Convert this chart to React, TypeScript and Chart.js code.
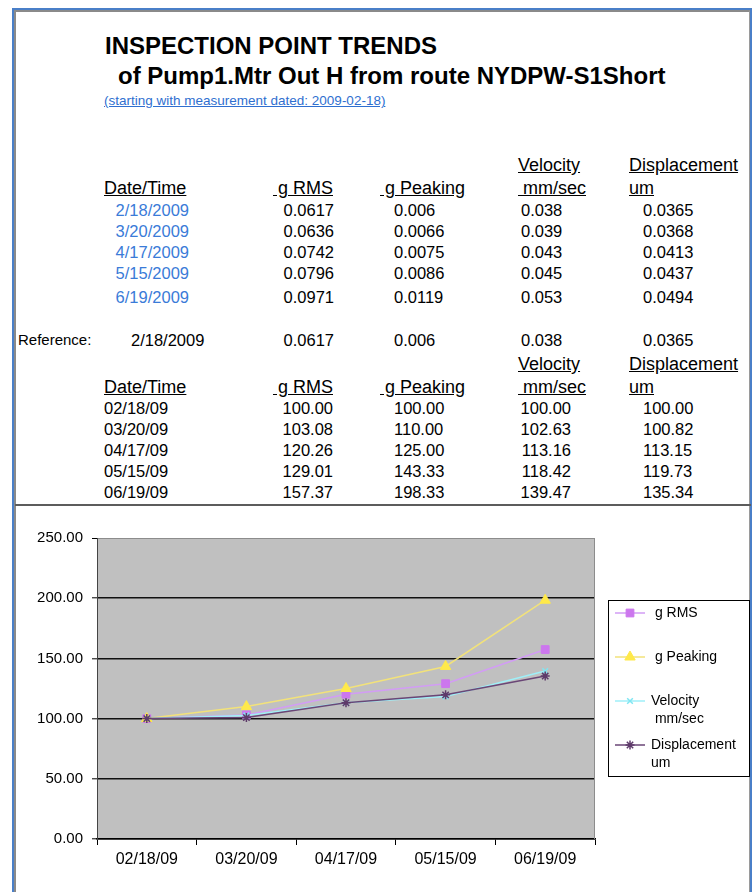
import React, { useEffect, useRef } from 'react';
import { Chart, registerables } from 'chart.js';
import { drawPoint } from 'chart.js/helpers';

Chart.register(...registerables);

// ---------- data ----------
const rawDates = ['2/18/2009', '3/20/2009', '4/17/2009', '5/15/2009', '6/19/2009'];
const categories = ['02/18/09', '03/20/09', '04/17/09', '05/15/09', '06/19/09'];

const rawGRms = ['0.0617', '0.0636', '0.0742', '0.0796', '0.0971'];
const rawGPeaking = ['0.006', '0.0066', '0.0075', '0.0086', '0.0119'];
const rawVelocity = ['0.038', '0.039', '0.043', '0.045', '0.053'];
const rawDisplacement = ['0.0365', '0.0368', '0.0413', '0.0437', '0.0494'];

const refDate = '2/18/2009';
const refValues = ['0.0617', '0.006', '0.038', '0.0365'];

const gRms = [100, 103.08, 120.26, 129.01, 157.37];
const gPeaking = [100, 110, 125, 143.33, 198.33];
const velocity = [100, 102.63, 113.16, 118.42, 139.47];
const displacement = [100, 100.82, 113.15, 119.73, 135.34];

const yTicks = [0, 50, 100, 150, 200, 250];
const seriesLabels = [' g RMS', ' g Peaking', 'Velocity\n mm/sec', 'Displacement\num'];

const FONT = '"Liberation Sans", Arial, sans-serif';

type TP = {
  x: number; y: number; align?: 'left' | 'right'; size?: number; color?: string;
  u?: boolean; bold?: boolean; lh?: number; children: string;
};
function T({ x, y, align = 'left', size = 16.5, color = '#000', u = false, bold = false, lh = 20, children }: TP) {
  const style: React.CSSProperties = {
    position: 'absolute', top: y - lh / 2, lineHeight: lh + 'px', height: lh, fontSize: size, color,
    whiteSpace: 'pre', textDecoration: u ? 'underline' : 'none', fontWeight: bold ? 'bold' : 'normal',
    fontFamily: FONT,
  };
  if (align === 'left') style.left = x; else style.right = 754 - x;
  return <div style={style}>{children}</div>;
}

const bgPlugin = {
  id: 'plotBg',
  beforeDraw(chart: any) {
    const { ctx, chartArea: a } = chart;
    ctx.save();
    ctx.fillStyle = '#C0C0C0';
    ctx.fillRect(a.left, a.top, a.right - a.left, a.bottom - a.top);
    ctx.restore();
  },
  beforeDatasetsDraw(chart: any) {
    const { ctx, chartArea: a } = chart;
    ctx.save();
    ctx.strokeStyle = '#8c8c8c';
    ctx.lineWidth = 1;
    ctx.beginPath();
    ctx.moveTo(a.right - 0.5, a.top);
    ctx.lineTo(a.right - 0.5, a.bottom);
    ctx.stroke();
    ctx.restore();
  },
};

const legendPlugin = {
  id: 'boxLegend',
  afterDraw(chart: any) {
    const { ctx, chartArea: a } = chart;
    ctx.save();
    const bx = a.right + 13.5, by = 88.5, bw = 141, bh = 176;
    ctx.fillStyle = '#fff';
    ctx.fillRect(bx, by, bw, bh);
    ctx.strokeStyle = '#000';
    ctx.lineWidth = 1;
    ctx.strokeRect(bx, by, bw, bh);
    chart.data.datasets.forEach((ds: any, i: number) => {
      const y = by + 12.5 + i * 44;
      const x0 = bx + 6.5;
      ctx.strokeStyle = ds.borderColor;
      ctx.lineWidth = 1.5;
      ctx.beginPath();
      ctx.moveTo(x0, y);
      ctx.lineTo(x0 + 30, y);
      ctx.stroke();
      ctx.fillStyle = ds.pointBackgroundColor;
      ctx.strokeStyle = ds.pointBorderColor;
      ctx.lineWidth = ds.pointBorderWidth;
      drawPoint(ctx, { pointStyle: ds.pointStyle, radius: ds.pointRadius, borderWidth: ds.pointBorderWidth, rotation: 0 } as any, x0 + 15, y);
      ctx.fillStyle = '#000';
      ctx.font = `14px ${FONT}`;
      ctx.textBaseline = 'middle';
      ctx.textAlign = 'left';
      const lines = String(ds.label).split('\n');
      lines.forEach((ln, k) => ctx.fillText(ln, x0 + 36, y + k * 18));
    });
    ctx.restore();
  },
};

function TrendChart() {
  const ref = useRef<HTMLCanvasElement | null>(null);
  useEffect(() => {
    if (!ref.current) return;
    const mk = (label: string, data: number[], line: string, fill: string, style: string, r: number, bw: number, order: number) => ({
      label, data, borderColor: line, borderWidth: 1.5, pointStyle: style, pointRadius: r,
      pointBackgroundColor: fill, pointBorderColor: fill, pointBorderWidth: bw, tension: 0, fill: false, order,
    });
    const chart = new Chart(ref.current, {
      type: 'line',
      data: {
        labels: categories,
        datasets: [
          mk(seriesLabels[0], gRms, '#D29CF5', '#CC77EE', 'rect', 5.5, 1, 3),
          mk(seriesLabels[1], gPeaking, '#F2E27A', '#FFE94A', 'triangle', 6, 1, 2),
          mk(seriesLabels[2], velocity, '#9FEFF8', '#7FE6F2', 'crossRot', 4, 1.5, 1),
          mk(seriesLabels[3], displacement, '#6A4676', '#5E3A6A', 'star', 4.5, 1.5, 0),
        ] as any,
      },
      options: {
        animation: false,
        responsive: true,
        maintainAspectRatio: false,
        layout: { padding: { top: 26, right: 155, bottom: 0, left: 0 } },
        plugins: { legend: { display: false }, tooltip: { enabled: false } },
        scales: {
          x: {
            offset: true,
            grid: { offset: true, drawOnChartArea: false, tickLength: 6, color: '#000', lineWidth: 1 },
            border: { color: '#000', width: 1.5 },
            ticks: { color: '#000', font: { family: FONT, size: 16 }, padding: 5, maxRotation: 0 },
            afterFit: (s: any) => { s.height = 53; },
          },
          y: {
            min: yTicks[0],
            max: yTicks[yTicks.length - 1],
            ticks: {
              stepSize: yTicks[1] - yTicks[0],
              callback: (v: any) => Number(v).toFixed(2),
              color: '#000', font: { family: FONT, size: 15 }, padding: 9,
            },
            grid: {
              color: (c: any) => (c.tick && c.tick.value === yTicks[yTicks.length - 1] ? '#8c8c8c' : '#111'),
              lineWidth: (c: any) => (c.tick && c.tick.value === yTicks[yTicks.length - 1] ? 1 : 1.6),
              tickColor: '#000', tickLength: 5, tickWidth: 1,
            },
            border: { color: '#444', width: 1 },
            afterFit: (s: any) => { s.width = 81; },
          },
        },
      } as any,
      plugins: [bgPlugin, legendPlugin],
    });
    return () => chart.destroy();
  }, []);
  return (
    <div style={{ position: 'absolute', left: 16, top: 512, width: 734, height: 380 }}>
      <canvas ref={ref} />
    </div>
  );
}

export default function App() {
  const topRows = [210, 231, 252, 273, 297];
  const botRows = [408, 429, 450, 471, 492];
  const blue = '#3A7BD8';
  return (
    <div style={{ position: 'absolute', left: 0, top: 0, width: 754, height: 892, overflow: 'hidden', background: '#fff', fontFamily: FONT }}>
      <style>{'html,body{margin:0;padding:0;overflow:hidden;background:#fff}'}</style>
      {/* frame */}
      <div style={{ position: 'absolute', left: 12, top: 8, width: 740, height: 900, boxSizing: 'border-box', borderTop: '2px solid #4A7FC8', borderLeft: '2px solid #4A7FC8', borderRight: '2px solid #4A7FC8' }}>
        <div style={{ position: 'absolute', left: 0, top: 0, right: 0, bottom: 0, borderTop: '2px solid #8a8a8a', borderLeft: '2px solid #8a8a8a', borderRight: '1px solid #9a9a9a' }} />
      </div>
      <div style={{ position: 'absolute', left: 15, top: 504, width: 736, height: 2, background: '#5c5c5c' }} />

      {/* titles */}
      <T x={105} y={46} size={24} bold lh={30}>INSPECTION POINT TRENDS</T>
      <T x={118} y={76} size={24} bold lh={30}>of Pump1.Mtr Out H from route NYDPW-S1Short</T>
      <T x={104} y={101} size={13.5} color="#2F6FD0" u lh={16}>(starting with measurement dated: 2009-02-18)</T>

      {/* top table headers */}
      <T x={518} y={165} size={18} u>Velocity</T>
      <T x={629} y={165} size={18} u>Displacement</T>
      <T x={104} y={188} size={18} u>Date/Time</T>
      <T x={333} y={188} size={18} u align="right">{' g RMS'}</T>
      <T x={380} y={188} size={18} u>{' g Peaking'}</T>
      <T x={518} y={188} size={18} u>{' mm/sec'}</T>
      <T x={629} y={188} size={18} u>um</T>

      {topRows.map((y, i) => (
        <React.Fragment key={'t' + i}>
          <T x={189} y={y} align="right" color={blue}>{rawDates[i]}</T>
          <T x={334} y={y} align="right">{rawGRms[i]}</T>
          <T x={394} y={y}>{rawGPeaking[i]}</T>
          <T x={521} y={y}>{rawVelocity[i]}</T>
          <T x={643} y={y}>{rawDisplacement[i]}</T>
        </React.Fragment>
      ))}

      {/* reference row */}
      <T x={18} y={340} size={15}>Reference:</T>
      <T x={131} y={340}>{refDate}</T>
      <T x={334} y={340} align="right">{refValues[0]}</T>
      <T x={394} y={340}>{refValues[1]}</T>
      <T x={521} y={340}>{refValues[2]}</T>
      <T x={643} y={340}>{refValues[3]}</T>

      {/* bottom table headers */}
      <T x={518} y={364} size={18} u>Velocity</T>
      <T x={629} y={364} size={18} u>Displacement</T>
      <T x={104} y={387} size={18} u>Date/Time</T>
      <T x={333} y={387} size={18} u align="right">{' g RMS'}</T>
      <T x={380} y={387} size={18} u>{' g Peaking'}</T>
      <T x={518} y={387} size={18} u>{' mm/sec'}</T>
      <T x={629} y={387} size={18} u>um</T>

      {botRows.map((y, i) => (
        <React.Fragment key={'b' + i}>
          <T x={104} y={y}>{categories[i]}</T>
          <T x={333} y={y} align="right">{gRms[i].toFixed(2)}</T>
          <T x={394} y={y}>{gPeaking[i].toFixed(2)}</T>
          <T x={571} y={y} align="right">{velocity[i].toFixed(2)}</T>
          <T x={643} y={y}>{displacement[i].toFixed(2)}</T>
        </React.Fragment>
      ))}

      <TrendChart />
    </div>
  );
}
